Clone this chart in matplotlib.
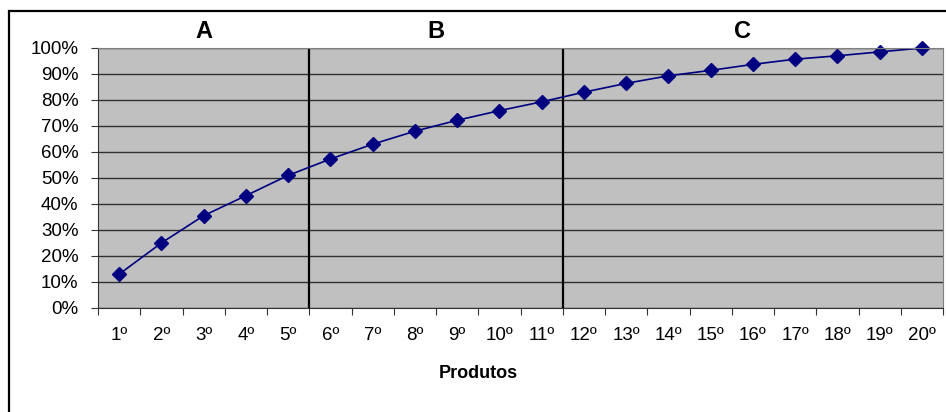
import matplotlib.pyplot as plt
from matplotlib.patches import Rectangle
from matplotlib.transforms import blended_transform_factory

plt.rcParams['font.family'] = ['Liberation Sans', 'DejaVu Sans']

# dados
produtos = [f"{i}º" for i in range(1, 21)]
acumulado = [13, 25, 35.5, 43.2, 51, 57.3, 63, 68, 72.2, 75.9,
             79.3, 83, 86.4, 89.3, 91.4, 93.7, 95.7, 97, 98.5, 100]
classes = ["A", "B", "C"]
classes_x = [3, 8.5, 15.75]
limites = [5.5, 11.5]

fig = plt.figure(figsize=(9.46, 4.12), dpi=100)
ax = fig.add_axes([98 / 946, 1 - 308 / 412, 845 / 946, 260 / 412])

x = list(range(1, len(produtos) + 1))
ax.set_facecolor("#c0c0c0")
ax.set_xlim(0.5, len(produtos) + 0.5)
ax.set_ylim(0, 100)

ax.set_yticks(range(0, 101, 10))
ax.set_yticklabels([f"{v}%" for v in range(0, 101, 10)], fontsize=13.5)
ax.yaxis.grid(True, color="#303030", linewidth=1.0)
ax.set_axisbelow(True)

# ticks nas fronteiras, rotulos no centro
ax.set_xticks([i + 0.5 for i in range(0, len(produtos) + 1)])
ax.set_xticklabels([])
ax.set_xticks(x, minor=True)
ax.set_xticklabels(produtos, minor=True, fontsize=13.5)
ax.tick_params(axis="x", which="major", direction="out", length=5, color="#333333")
ax.tick_params(axis="x", which="minor", length=0, pad=14)
ax.tick_params(axis="y", direction="out", length=5, pad=9, color="#333333")

for s in ["top", "right"]:
    ax.spines[s].set_color("#808080")
for s in ["left", "bottom"]:
    ax.spines[s].set_color("#333333")

for lim in limites:
    ax.axvline(lim, color="black", linewidth=1.6)

ax.plot(x, acumulado, "-", color="#000080", linewidth=1.2, clip_on=False,
        marker="D", markersize=7, markerfacecolor="#000080", markeredgecolor="#000080")

trans = blended_transform_factory(ax.transData, ax.transAxes)
for c, cx in zip(classes, classes_x):
    ax.text(cx, 1.062, c, transform=trans, ha="center", va="center",
            fontsize=17, fontweight="bold")

fig.text(478 / 946, 1 - 374 / 412, "Produtos", ha="center", va="center",
         fontsize=13, fontweight="bold")

# moldura externa
fig.patches.append(Rectangle((9 / 946, -0.2), 1.2, 1 - 11 / 412 + 0.2,
                             transform=fig.transFigure, fill=False,
                             edgecolor="black", linewidth=1.6))

plt.savefig("out.png", dpi=100)
